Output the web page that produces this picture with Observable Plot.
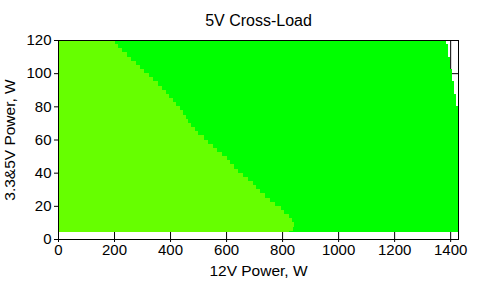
<!DOCTYPE html>
<html><head><meta charset="utf-8">
<script src="https://cdn.jsdelivr.net/npm/d3@7"></script>
<script src="https://cdn.jsdelivr.net/npm/@observablehq/plot@0.6"></script>
<style>body{margin:0;background:#fff} svg{display:block}</style>
</head><body><div id="chart"></div>
<script>
const title = "5V Cross-Load";
const xTitle = "12V Power, W";
const yTitle = "3.3&5V Power, W";
const xTicks = [0, 200, 400, 600, 800, 1000, 1200, 1400];
const yTicks = [0, 20, 40, 60, 80, 100, 120];

// bottom edge (3.3&5V load, W) of each measured row
const rowBottom = [4.4, 5, 7.5, 10, 12.5, 15, 17.5, 20, 22.5, 25, 27.5, 30, 32.5, 35, 37.5, 40,
  42.5, 45, 47.5, 50, 52.5, 55, 57.5, 60, 62.5, 65, 67.5, 70, 72.5, 75, 77.5, 80, 82.5, 85,
  87.5, 90, 92.5, 95, 97.5, 100, 102.5, 105, 107.5, 110, 112.5, 115, 117.5];
const rowTopMax = 120;
// 12V load where the zone changes from light green to green
const boundary12V = [826, 840, 842, 834, 825, 808, 795, 775, 758, 740, 722, 708, 697, 680, 660, 642,
  628, 614, 602, 585, 568, 552, 537, 520, 500, 488, 475, 465, 458, 445, 434, 422, 410, 398,
  386, 372, 358, 340, 324, 308, 292, 277, 262, 245, 228, 213, 203];
// maximum 12V load reached in each row
const maxLoad12V = [1428, 1428, 1428, 1428, 1428, 1428, 1428, 1428, 1428, 1428, 1428, 1428, 1428, 1428, 1428, 1428,
  1428, 1428, 1428, 1428, 1428, 1428, 1428, 1428, 1428, 1428, 1428, 1428, 1428, 1428, 1428, 1421, 1421, 1421,
  1414, 1414, 1414, 1407, 1407, 1407, 1400, 1400, 1400, 1394, 1394, 1394, 1385];
const xDomain = [0, 1428];
const yDomain = [0, 120];
const colorLow = "#66ff00";
const colorHigh = "#00ff00";

const rows = rowBottom.map((b, i) => ({
  y1: b,
  y2: i + 1 < rowBottom.length ? rowBottom[i + 1] : rowTopMax,
  xb: boundary12V[i],
  xm: maxLoad12V[i]
}));

const chart = Plot.plot({
  width: 487, height: 286,
  marginLeft: 58, marginRight: 29, marginTop: 40, marginBottom: 47,
  style: {fontFamily: "'Liberation Sans', Arial, sans-serif", fontSize: "15px", background: "#fff", color: "#000", overflow: "visible"},
  x: {domain: xDomain, label: null},
  y: {domain: yDomain, label: null},
  marks: [
    Plot.gridX(xTicks, {stroke: "#000", strokeOpacity: 1}),
    Plot.gridY(yTicks, {stroke: "#000", strokeOpacity: 1}),
    Plot.rect(rows, {x1: 0, x2: "xb", y1: "y1", y2: "y2", fill: colorLow, shapeRendering: "crispEdges"}),
    Plot.rect(rows, {x1: "xb", x2: "xm", y1: "y1", y2: "y2", fill: colorHigh, shapeRendering: "crispEdges"}),
    Plot.frame({stroke: "#000", strokeOpacity: 1}),
    Plot.axisY(yTicks, {tickSize: 4, tickPadding: 3, fontSize: 15, label: null, tickFormat: d => String(d)}),
    Plot.axisX(xTicks, {tickSize: 3, tickPadding: 2, fontSize: 15, label: null, tickFormat: d => String(d)}),
    Plot.text([title], {frameAnchor: "top", textAnchor: "middle", lineAnchor: "middle", dy: -20, fontSize: 16}),
    Plot.text([xTitle], {frameAnchor: "bottom", textAnchor: "middle", lineAnchor: "middle", dy: 32, fontSize: 15.5}),
    Plot.text([yTitle], {frameAnchor: "left", textAnchor: "middle", lineAnchor: "middle", rotate: -90, dx: -48, fontSize: 15.5})
  ]
});
document.getElementById("chart").appendChild(chart);
</script>
</body></html>
